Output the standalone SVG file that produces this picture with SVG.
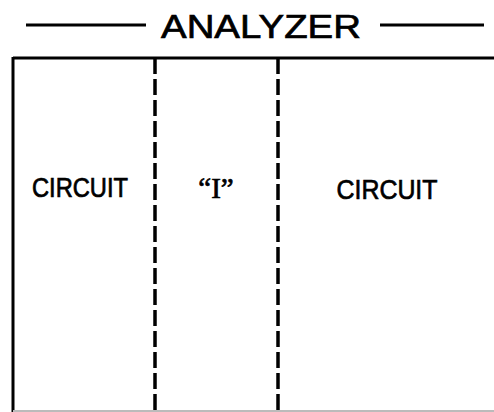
<svg xmlns="http://www.w3.org/2000/svg" width="494" height="412" viewBox="0 0 494 412">
<style>
.t{font-family:"Liberation Sans",Arial,sans-serif;fill:#000;stroke:#000;stroke-width:0.7;text-anchor:middle}
.serif{font-family:"Liberation Serif","Times New Roman",serif}
.s{stroke:#000;stroke-width:3;fill:none}
.d{stroke:#000;stroke-width:3.5;fill:none;stroke-dasharray:16 5}
</style>
<rect width="494" height="412" fill="#fff"/>
<g id="title">
<line class="s" x1="26" y1="25" x2="146" y2="25"/>
<text class="t" x="261" y="38" font-size="34" textLength="200" lengthAdjust="spacingAndGlyphs">ANALYZER</text>
<line class="s" x1="380" y1="25" x2="484" y2="25"/>
</g>
<g id="box">
<line class="s" x1="13" y1="58" x2="494" y2="58"/>
<line class="s" x1="13" y1="57" x2="13" y2="412"/>
<line stroke="#bbb" stroke-width="2" x1="13" y1="411" x2="494" y2="411"/>
</g>
<g id="connectors">
<line class="d" x1="155" y1="58" x2="155" y2="412"/>
<line class="d" x1="278" y1="58" x2="278" y2="412"/>
</g>
<g id="left">
<text class="t" x="80" y="197" font-size="27" textLength="96" lengthAdjust="spacingAndGlyphs">CIRCUIT</text>
</g>
<g id="middle">
<text class="t serif" x="216" y="198" font-size="29">“I”</text>
</g>
<g id="right">
<text class="t" x="387" y="199" font-size="28" textLength="101" lengthAdjust="spacingAndGlyphs">CIRCUIT</text>
</g>
</svg>
